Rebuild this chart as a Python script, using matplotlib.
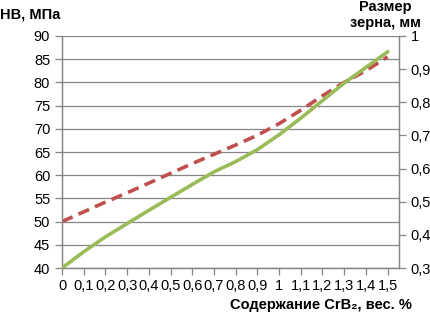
import matplotlib
matplotlib.use("Agg")
import matplotlib.pyplot as plt

# categories of CrB2 content, wt. %
x_labels = ["0", "0,1", "0,2", "0,3", "0,4", "0,5", "0,6", "0,7",
            "0,8", "0,9", "1", "1,1", "1,2", "1,3", "1,4", "1,5"]

# hardness HB, MPa (left axis, red dashed)
hb = [50.0, 52.1, 54.2, 56.2, 58.3, 60.4, 62.5, 64.5,
      66.5, 68.6, 71.1, 74.0, 77.1, 80.0, 82.5, 85.5]

# grain size, mm (right axis, green)
grain = [0.300, 0.349, 0.394, 0.434, 0.474, 0.513, 0.552, 0.590,
         0.621, 0.657, 0.702, 0.752, 0.805, 0.858, 0.905, 0.952]

left_ticks = [40, 45, 50, 55, 60, 65, 70, 75, 80, 85, 90]
right_ticks = [0.3, 0.4, 0.5, 0.6, 0.7, 0.8, 0.9, 1.0]
right_labels = ["0,3", "0,4", "0,5", "0,6", "0,7", "0,8", "0,9", "1"]

GRID = "#868686"
RED = "#C0504D"
GREEN = "#9BBB59"

plt.rcParams["font.family"] = ["Liberation Sans", "DejaVu Sans"]

fig = plt.figure(figsize=(4.31, 3.18), dpi=100)
ax = fig.add_axes([0.1439, 0.1572, 0.7819, 0.7296])
ax2 = ax.twinx()

pos = list(range(len(x_labels)))

ax.plot(pos, hb, color=RED, lw=2.6, ls=(0, (3.2, 1.8)), zorder=3)
ax2.plot(pos, grain, color=GREEN, lw=2.6, zorder=3)

ax.set_xlim(0, 15.53)
ax.set_ylim(40, 90)
ax2.set_ylim(0.3, 1.0)

ax.set_yticks(left_ticks)
ax.set_yticklabels([str(t) for t in left_ticks], fontsize=10.5)
ax2.set_yticks(right_ticks)
ax2.set_yticklabels(right_labels, fontsize=10.5)
ax.set_xticks(pos)
ax.set_xticklabels(x_labels, fontsize=10.5)

ax.grid(axis="y", color=GRID, lw=0.9)
ax.set_axisbelow(True)

for a in (ax, ax2):
    a.spines["top"].set_visible(False)
    for s in ("left", "right", "bottom"):
        a.spines[s].set_color(GRID)
        a.spines[s].set_linewidth(0.9)
ax.tick_params(axis="both", colors=GRID, labelcolor="black", length=5, width=0.9)
ax.tick_params(axis="x", pad=3)
ax2.tick_params(axis="y", colors=GRID, labelcolor="black", length=5, width=0.9)

fig.text(0.0, 0.953, "HB, МПа", fontsize=10.5, fontweight="bold", ha="left", va="center")
fig.text(0.895, 0.953, "Размер\nзерна, мм", fontsize=10.5, fontweight="bold",
         ha="center", va="center", linespacing=1.15)
fig.text(0.745, 0.04, "Содержание CrB₂, вес. %", fontsize=10.5, fontweight="bold",
         ha="center", va="center")

fig.savefig("out.png", dpi=100)
